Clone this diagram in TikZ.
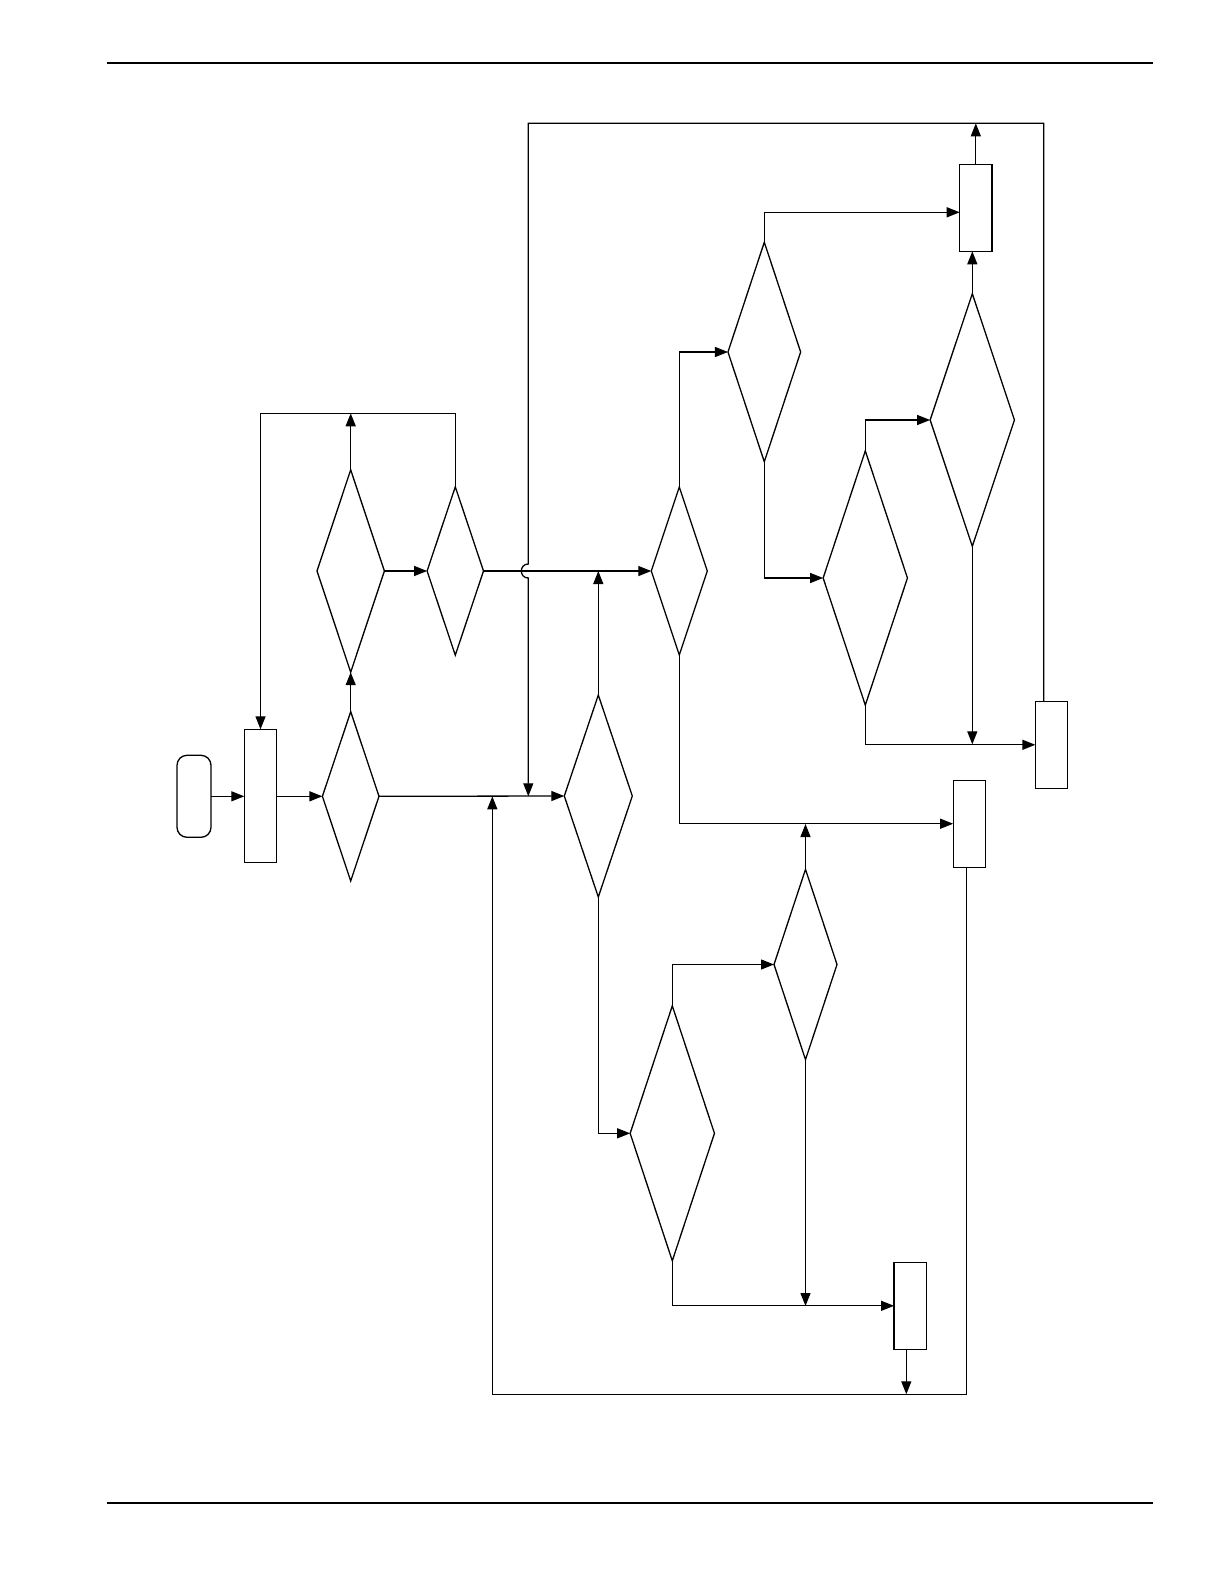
\documentclass[tikz,border=0pt]{standalone}
\usetikzlibrary{shapes.geometric,arrows.meta}
\begin{document}
\begin{tikzpicture}[x=0.5pt,y=-0.5pt,
  line width=0.65pt,
  dec/.style={draw,diamond,inner sep=0pt,outer sep=0pt},
  proc/.style={draw,rectangle,inner sep=0pt,outer sep=0pt,minimum width=16.15pt,minimum height=43.5pt},
  term/.style={draw,rectangle,rounded corners=5pt,inner sep=0pt,outer sep=0pt,minimum width=17pt,minimum height=41pt},
  arr/.style={-{Triangle[length=6.5pt,width=5pt]}},
  rule/.style={line width=1.1pt}]
\useasboundingbox (0,0) rectangle (1224,1584);
% page rules
\coordinate (hl) at (107,62.7); \coordinate (hr) at (1153,62.7);
\coordinate (fl) at (107,1502.7); \coordinate (fr) at (1153,1502.7);
\draw[rule] (hl) -- (hr);
\draw[rule] (fl) -- (fr);
% nodes
\node[term] (T) at (194,796.3) {};
\node[proc,minimum width=16.2pt,minimum height=66.5pt] (B1) at (260.5,795.8) {};
\node[dec,minimum width=28.3pt,minimum height=84.65pt] (D1) at (350.7,796.3) {};
\node[dec,minimum width=33.7pt,minimum height=101.2pt] (D2) at (350.7,571) {};
\node[dec,minimum width=28.2pt,minimum height=84.2pt] (D3) at (455.3,571) {};
\node[dec,minimum width=28pt,minimum height=84pt] (D4) at (679.3,571) {};
\node[dec,minimum width=36.35pt,minimum height=109.75pt] (D5) at (764.3,352) {};
\node[dec,minimum width=34pt,minimum height=101pt] (D6) at (598.3,796) {};
\node[dec,minimum width=42.15pt,minimum height=126.35pt] (D7) at (972.3,420) {};
\node[dec,minimum width=42.15pt,minimum height=127.15pt] (D8) at (865.3,578) {};
\node[dec,minimum width=31.5pt,minimum height=95.15pt] (D9) at (805.5,964.5) {};
\node[dec,minimum width=42.15pt,minimum height=127.5pt] (D10) at (672.3,1133.3) {};
\node[proc] (B5) at (975.8,207.8) {};
\node[proc] (B6) at (1051.5,744.8) {};
\node[proc] (B7) at (969.3,823.7) {};
\node[proc] (B8) at (910.2,1305.8) {};
% helper coordinates
\coordinate (topA) at (350.7,413.3);
\coordinate (topL) at (260.5,413.3);
\coordinate (j1) at (598.3,571);
\coordinate (j2) at (805.5,824);
\coordinate (j3) at (805.5,1306);
\coordinate (j4) at (972.3,744.3);
\coordinate (b5in) at (959.7,212.3);
\coordinate (b5top) at (975.8,123.3);
\coordinate (b6o) at (1043.7,701.3);
\coordinate (tr) at (1043.7,123.3);
\coordinate (tl) at (528.3,123.3);
\coordinate (jmpA) at (528.3,564);
\coordinate (jmpB) at (528.3,578);
\coordinate (loopin) at (528.3,796.3);
\coordinate (b7o) at (966.3,867.3);
\coordinate (br) at (966.3,1394.3);
\coordinate (bl) at (492.3,1394.3);
\coordinate (loopin2) at (492.3,796.3);
\coordinate (b8o) at (906.3,1349.3);
\coordinate (b8e) at (906.3,1394.3);
% connectors
\draw[arr] (T.east) -- (T.east -| B1.west);
\draw[arr] (B1.east |- D1.west) -- (D1.west);
\draw[arr] (D1.north) -- (D2.south);
\draw[arr] (D2.east) -- (D3.west);
\draw[arr] (D2.north) -- (topA);
\draw[arr] (D3.north) |- (topL) -- (B1.north);
\draw[arr] (D3.east) -- (D4.west);
\draw[arr] (D1.east) -- (D6.west);
\draw[arr] (D6.north) -- (j1);
\draw[arr] (D6.south) |- (D10.west);
\draw[arr] (D10.north) |- (D9.west);
\draw[arr] (D10.south) |- (B8.west);
\draw[arr] (D9.south) -- (j3);
\draw[arr] (D9.north) -- (j2);
\draw[arr] (D4.south) |- (B7.west);
\draw[arr] (D4.north) |- (D5.west);
\draw[arr] (D5.north) |- (b5in);
\draw[arr] (D5.south) |- (D8.west);
\draw[arr] (D8.north) |- (D7.west);
\draw[arr] (D7.north) -- (D7.north |- B5.south);
\draw[arr] (D7.south) -- (j4);
\draw[arr] (D8.south) |- (B6.west);
\draw[arr] (B5.north) -- (b5top);
\draw[arr] (b6o) -- (tr) -- (tl) -- (jmpA) .. controls (519,564) and (519,578) .. (jmpB) -- (loopin);
\draw[arr] (b7o) -- (br) -- (bl) -- (loopin2);
\draw[arr] (b8o) -- (b8e);
\end{tikzpicture}
\end{document}
